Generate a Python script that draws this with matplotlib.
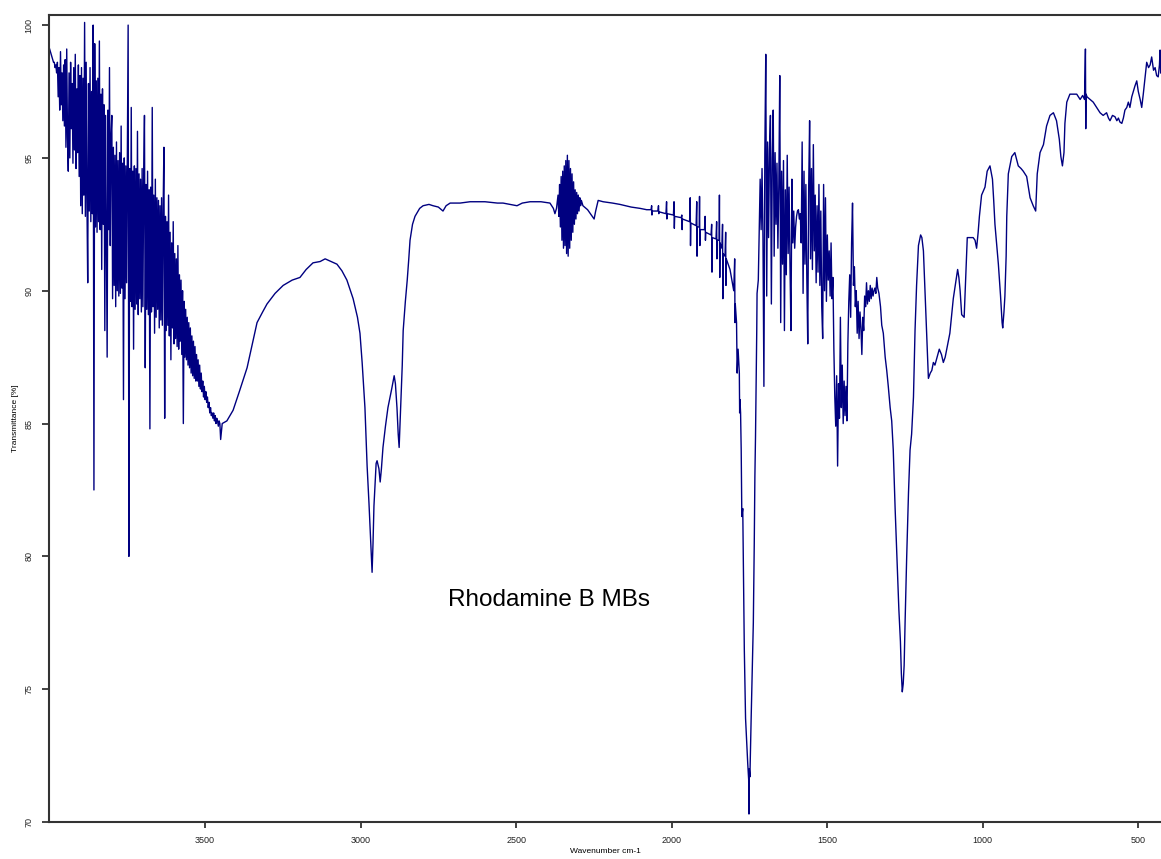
import numpy as np
import matplotlib
matplotlib.use('Agg')
import matplotlib.pyplot as plt

plt.rcParams['font.family'] = ['Liberation Sans', 'DejaVu Sans']

# ---- spectrum (wavenumber cm-1, transmittance %) ----
# noisy stretches: start wavenumber, sample step, transmittance values
NOISE_OH_START, NOISE_OH_STEP = 4000, 2.5
NOISE_OH = [99.1, 99.0, 98.9, 98.8, 98.7, 98.6, 98.6, 98.4, 98.5, 98.2,
            98.6, 97.3, 98.4, 96.8, 99.0, 97.0, 98.2, 96.4, 98.5, 96.2,
            98.7, 95.4, 99.1, 95.8, 94.5, 98.2, 95.0, 98.6, 96.1, 97.8,
            94.8, 98.4, 95.3, 98.9, 94.6, 97.6, 95.2, 98.5, 94.3, 98.1,
            93.2, 98.4, 92.9, 98.0, 93.6, 100.1, 92.8, 98.6, 93.4, 90.3,
            97.8, 93.0, 98.4, 92.6, 97.5, 92.9, 100.0, 82.5, 99.3, 92.4,
            97.9, 92.2, 98.0, 92.6, 99.4, 92.3, 97.4, 90.8, 97.6, 92.5,
            97.0, 88.5, 96.6, 91.9, 87.5, 96.8, 92.3, 98.4, 91.7, 95.8,
            96.6, 89.7, 95.4, 90.2, 95.1, 89.4, 95.6, 90.0, 94.9, 89.8,
            95.2, 89.9, 96.2, 90.1, 94.8, 85.9, 95.0, 89.7, 94.7, 90.3,
            95.3, 100.0, 80.0, 94.6, 89.6, 96.9, 89.4, 94.5, 87.8, 94.7,
            89.3, 94.6, 89.5, 96.0, 89.1, 94.4, 89.7, 94.2, 89.2, 94.6,
            89.4, 94.3, 96.6, 87.1, 94.0, 89.3, 94.5, 89.1, 93.8, 84.8,
            93.9, 89.2, 96.9, 89.4, 93.6, 88.4, 94.2, 89.0, 93.5, 89.3,
            93.4, 88.6, 93.2, 88.9, 93.5, 88.7, 93.0, 95.4, 85.2, 92.8,
            88.5, 92.6, 88.7, 93.6, 88.3, 92.2, 87.4, 91.8, 88.6, 92.6,
            88.0, 91.4, 88.2, 91.2, 87.9, 91.7, 87.8, 90.6, 88.1, 90.4,
            87.6, 90.0, 85.0, 89.6, 87.5, 89.3, 87.4, 89.0, 87.2, 88.8,
            87.1, 88.6, 86.9, 88.3, 86.8, 88.1, 86.7, 87.9, 86.6, 87.6,
            86.6, 87.4, 86.4, 87.2, 86.3, 86.9, 86.2, 86.6, 86.0, 86.4,
            85.9, 86.2, 85.8, 86.0, 85.6, 85.8, 85.4, 85.6, 85.3, 85.4,
            85.2, 85.4, 85.1, 85.3, 85.0, 85.2, 85.1, 84.9, 85.1, 85.0,
            84.4]

CH_WN = [3445, 3430, 3410, 3390, 3365, 3350, 3333, 3315, 3301, 3275, 3249, 3220,
         3195, 3175, 3153, 3130, 3114, 3095, 3076, 3060, 3044, 3024, 3010, 3002,
         2995, 2986, 2979, 2973, 2966, 2963, 2960, 2957, 2950, 2947, 2941, 2937,
         2933, 2928, 2920, 2912, 2900, 2892, 2888, 2883, 2879, 2876, 2873, 2870,
         2866, 2863, 2856, 2850, 2845, 2841, 2833, 2825, 2810, 2799, 2780, 2767,
         2750, 2735, 2725, 2712, 2680, 2648, 2600, 2560, 2542, 2520, 2497, 2480,
         2455, 2420, 2391, 2380, 2375, 2370]
CH_T = [85.0, 85.1, 85.5, 86.2, 87.1, 87.9, 88.8, 89.2, 89.5, 89.9, 90.2, 90.4,
        90.5, 90.8, 91.05, 91.1, 91.2, 91.1, 91.0, 90.75, 90.4, 89.7, 89.0, 88.4,
        87.3, 85.6, 83.4, 82.0, 80.2, 79.4, 80.5, 81.9, 83.5, 83.6, 83.3, 82.8,
        83.3, 84.1, 84.9, 85.6, 86.3, 86.8, 86.5, 85.6, 84.6, 84.1, 85.0, 86.0,
        87.2, 88.5, 89.6, 90.4, 91.2, 91.9, 92.5, 92.8, 93.1, 93.2, 93.25, 93.2,
        93.15, 93.0, 93.2, 93.3, 93.3, 93.35, 93.35, 93.3, 93.3, 93.25, 93.2, 93.3,
        93.35, 93.35, 93.3, 93.1, 92.9, 93.1]

NOISE_CO2_START, NOISE_CO2_STEP = 2365, 2.5
NOISE_CO2 = [93.6, 92.8, 94.0, 92.4, 94.3, 91.9, 94.5, 91.6, 94.7, 91.7,
             94.9, 91.4, 95.1, 91.3, 94.9, 91.6, 94.6, 91.9, 94.4, 92.2,
             94.1, 92.5, 93.8, 92.7, 93.7, 92.9, 93.6, 93.0, 93.5, 93.2, 93.4]

CO_WN = [2285, 2270, 2258, 2249, 2244, 2236, 2220, 2190, 2166, 2130, 2101, 2080,
         2066, 2064, 2063, 2062, 2044, 2042, 2041, 2040, 2018, 2016, 2015, 2014,
         1994, 1992, 1991, 1990, 1969, 1967, 1966, 1965, 1942, 1940, 1939, 1938,
         1921, 1919, 1918, 1917, 1911, 1910, 1909, 1908, 1894, 1892, 1891, 1890,
         1873, 1871, 1870, 1869, 1857, 1855, 1854, 1853, 1847, 1846, 1845, 1844,
         1838, 1836, 1835, 1834, 1828, 1826, 1825, 1824, 1812, 1806, 1800, 1797,
         1796, 1795, 1791, 1789, 1786, 1782, 1781, 1780, 1778, 1776, 1774, 1771,
         1769, 1766, 1762, 1755, 1752, 1751, 1750, 1748, 1744, 1740, 1737, 1734,
         1732, 1730, 1728, 1726, 1725, 1721, 1716]
CO_T = [93.2, 93.05, 92.85, 92.7, 93.0, 93.4, 93.35, 93.3, 93.25, 93.15, 93.1, 93.05,
        93.05, 93.2, 92.85, 93.0, 93.0, 93.2, 92.9, 92.97, 92.9, 93.35, 92.7, 92.9,
        92.85, 93.35, 92.35, 92.8, 92.75, 92.85, 92.3, 92.7, 92.6, 93.5, 91.7, 92.55,
        92.45, 93.35, 91.3, 92.4, 92.4, 93.55, 91.7, 92.3, 92.3, 92.8, 91.9, 92.2,
        92.1, 92.5, 90.7, 92.0, 91.95, 92.6, 91.2, 91.9, 91.9, 93.6, 90.5, 91.8,
        91.6, 92.5, 89.7, 91.4, 91.3, 92.2, 90.2, 91.2, 90.8, 90.4, 90.0, 91.2,
        88.8, 89.5, 88.8, 86.9, 87.8, 86.9, 85.4, 85.9, 85.4, 84.0, 81.5, 81.8,
        79.8, 76.5, 73.9, 72.2, 71.6, 70.3, 72.0, 71.7, 73.9, 75.9, 77.5, 80.5,
        83.0, 84.5, 86.4, 88.5, 89.9, 90.4, 93.5]

NOISE_AR_START, NOISE_AR_STEP = 1715, 3
NOISE_AR = [94.2, 92.3, 94.6, 92.0, 86.4, 95.2, 98.9, 89.8, 95.6, 92.0,
            95.3, 96.6, 89.5, 95.0, 96.8, 91.3, 95.2, 92.5, 94.8, 91.6,
            94.0, 98.1, 88.8, 94.5, 91.0, 94.9, 88.5, 93.8, 90.6, 95.1,
            91.4, 93.9, 90.9, 88.5, 94.2, 91.8, 93.0, 91.6, 92.4, 92.8,
            93.0, 93.05, 92.7, 92.9, 91.8, 95.6, 89.9, 94.5, 91.0, 94.0,
            90.5, 88.0, 93.9, 96.4, 91.2, 94.6, 90.8, 95.5, 91.5, 93.6,
            90.3, 93.2, 90.7, 94.0, 90.2, 93.0, 89.4, 88.2, 94.0, 90.0,
            93.5, 89.6, 92.1, 90.4, 91.5, 89.8, 91.8, 89.7, 90.5,
            87.8, 86.0, 84.9, 86.8, 83.4, 86.5, 85.2, 89.0, 85.6, 87.2,
            85.0, 86.6, 85.3, 86.4, 85.1, 88.0, 89.6, 90.6, 89.0, 91.8,
            93.3, 90.2, 90.9, 89.4, 90.0, 88.4, 89.6, 88.2, 89.2, 88.6,
            87.6, 89.0, 88.5, 89.8, 89.4, 90.3, 89.5, 90.0, 89.6, 90.2,
            89.7, 90.1, 89.8, 90.0, 90.1, 89.9, 90.5, 90.1]

FP_WN = [1333, 1328, 1324, 1319, 1313, 1308, 1303, 1297, 1292, 1287, 1281, 1274,
         1269, 1264, 1261, 1258, 1255, 1252, 1249, 1244, 1238, 1233, 1228, 1222,
         1217, 1212, 1206, 1199, 1195, 1190, 1185, 1180, 1174, 1168, 1163, 1158,
         1153, 1146, 1139, 1132, 1126, 1120, 1115, 1105, 1094, 1085, 1080, 1076,
         1072, 1067, 1059, 1053, 1049, 1040, 1030, 1024, 1019, 1014, 1010, 1003,
         992, 985, 976, 968, 964, 960, 955, 949, 942, 937, 935, 931, 928, 924,
         922, 917, 906, 896, 885, 876, 869, 858, 847, 837, 829, 824, 815, 804,
         794, 783, 772, 762, 753, 748, 743, 738, 735, 729, 719, 708, 697, 686,
         678, 672, 669, 668, 667, 664, 654, 644, 633, 622, 612, 601, 595, 590,
         582, 574, 568, 563, 558, 552, 547, 542, 536, 531, 526, 520, 515, 510,
         504, 499, 493, 488, 483, 477, 472, 466, 461, 456, 450, 445, 440, 435,
         431, 429, 427]
FP_T = [89.9, 89.4, 88.7, 88.4, 87.5, 87.0, 86.4, 85.6, 85.1, 84.0, 81.8, 79.6,
        78.0, 76.8, 75.6, 74.9, 75.2, 75.9, 77.5, 79.9, 82.4, 84.0, 84.6, 86.0,
        88.5, 90.2, 91.7, 92.1, 92.0, 91.5, 90.0, 88.5, 86.7, 86.9, 87.0, 87.3,
        87.2, 87.5, 87.8, 87.6, 87.3, 87.5, 87.8, 88.4, 89.7, 90.4, 90.8, 90.5,
        90.0, 89.1, 89.0, 90.8, 92.0, 92.0, 92.0, 91.9, 91.6, 92.2, 92.8, 93.6,
        93.9, 94.5, 94.7, 94.2, 93.4, 92.5, 91.8, 91.0, 89.8, 88.8, 88.6, 89.2,
        89.8, 91.3, 92.8, 94.4, 95.05, 95.2, 94.7, 94.6, 94.5, 94.3, 93.5, 93.2,
        93.0, 94.4, 95.2, 95.5, 96.2, 96.6, 96.7, 96.4, 95.7, 95.05, 94.7, 95.2,
        96.3, 97.1, 97.4, 97.4, 97.4, 97.2, 97.35, 97.2, 99.1, 96.1, 97.4, 97.3,
        97.2, 97.1, 96.9, 96.7, 96.6, 96.7, 96.5, 96.4, 96.6, 96.55, 96.4, 96.5,
        96.35, 96.3, 96.5, 96.8, 96.9, 97.1, 96.9, 97.3, 97.5, 97.7, 97.9, 97.5,
        97.2, 96.9, 97.4, 98.05, 98.6, 98.4, 98.5, 98.8, 98.3, 98.4, 98.1, 98.05,
        98.5, 99.06, 98.2]

LABEL = 'Rhodamine B MBs'
X_TICKS = [3500, 3000, 2500, 2000, 1500, 1000, 500]
Y_TICKS = [70, 75, 80, 85, 90, 95, 100]


def grid(start, step, vals):
    return start - step * np.arange(len(vals))


wn = np.concatenate([grid(NOISE_OH_START, NOISE_OH_STEP, NOISE_OH), CH_WN,
                     grid(NOISE_CO2_START, NOISE_CO2_STEP, NOISE_CO2), CO_WN,
                     grid(NOISE_AR_START, NOISE_AR_STEP, NOISE_AR), FP_WN])
tr = np.concatenate([NOISE_OH, CH_T, NOISE_CO2, CO_T, NOISE_AR, FP_T])

fig = plt.figure(figsize=(11.61, 8.59), dpi=100)
ax = fig.add_axes([49 / 1161, 37 / 859, 1 - 49 / 1161, 807 / 859])
ax.plot(wn, tr, color='#000080', lw=1.0)

ax.set_xlim(4002, 426)
ax.set_ylim(70, 100.38)
ax.set_xticks(X_TICKS)
ax.set_yticks(Y_TICKS)
ax.tick_params(axis='x', labelsize=6.5, length=4, width=1.2, pad=6, colors='#222222')
ax.tick_params(axis='y', labelsize=6.5, length=5, width=1.2, pad=6, colors='#222222',
               labelrotation=90)
for lab in ax.get_yticklabels():
    lab.set_va('center')
ax.spines['right'].set_visible(False)
for s in ('left', 'bottom', 'top'):
    ax.spines[s].set_linewidth(1.5)
    ax.spines[s].set_color('#333333')

ax.set_xlabel('Wavenumber cm-1', fontsize=6, labelpad=2)
ax.set_ylabel('Transmittance [%]', fontsize=6, labelpad=4)
ax.text(2394, 78.35, LABEL, fontsize=17.5, ha='center', va='center')

fig.savefig('out.png', dpi=100)
